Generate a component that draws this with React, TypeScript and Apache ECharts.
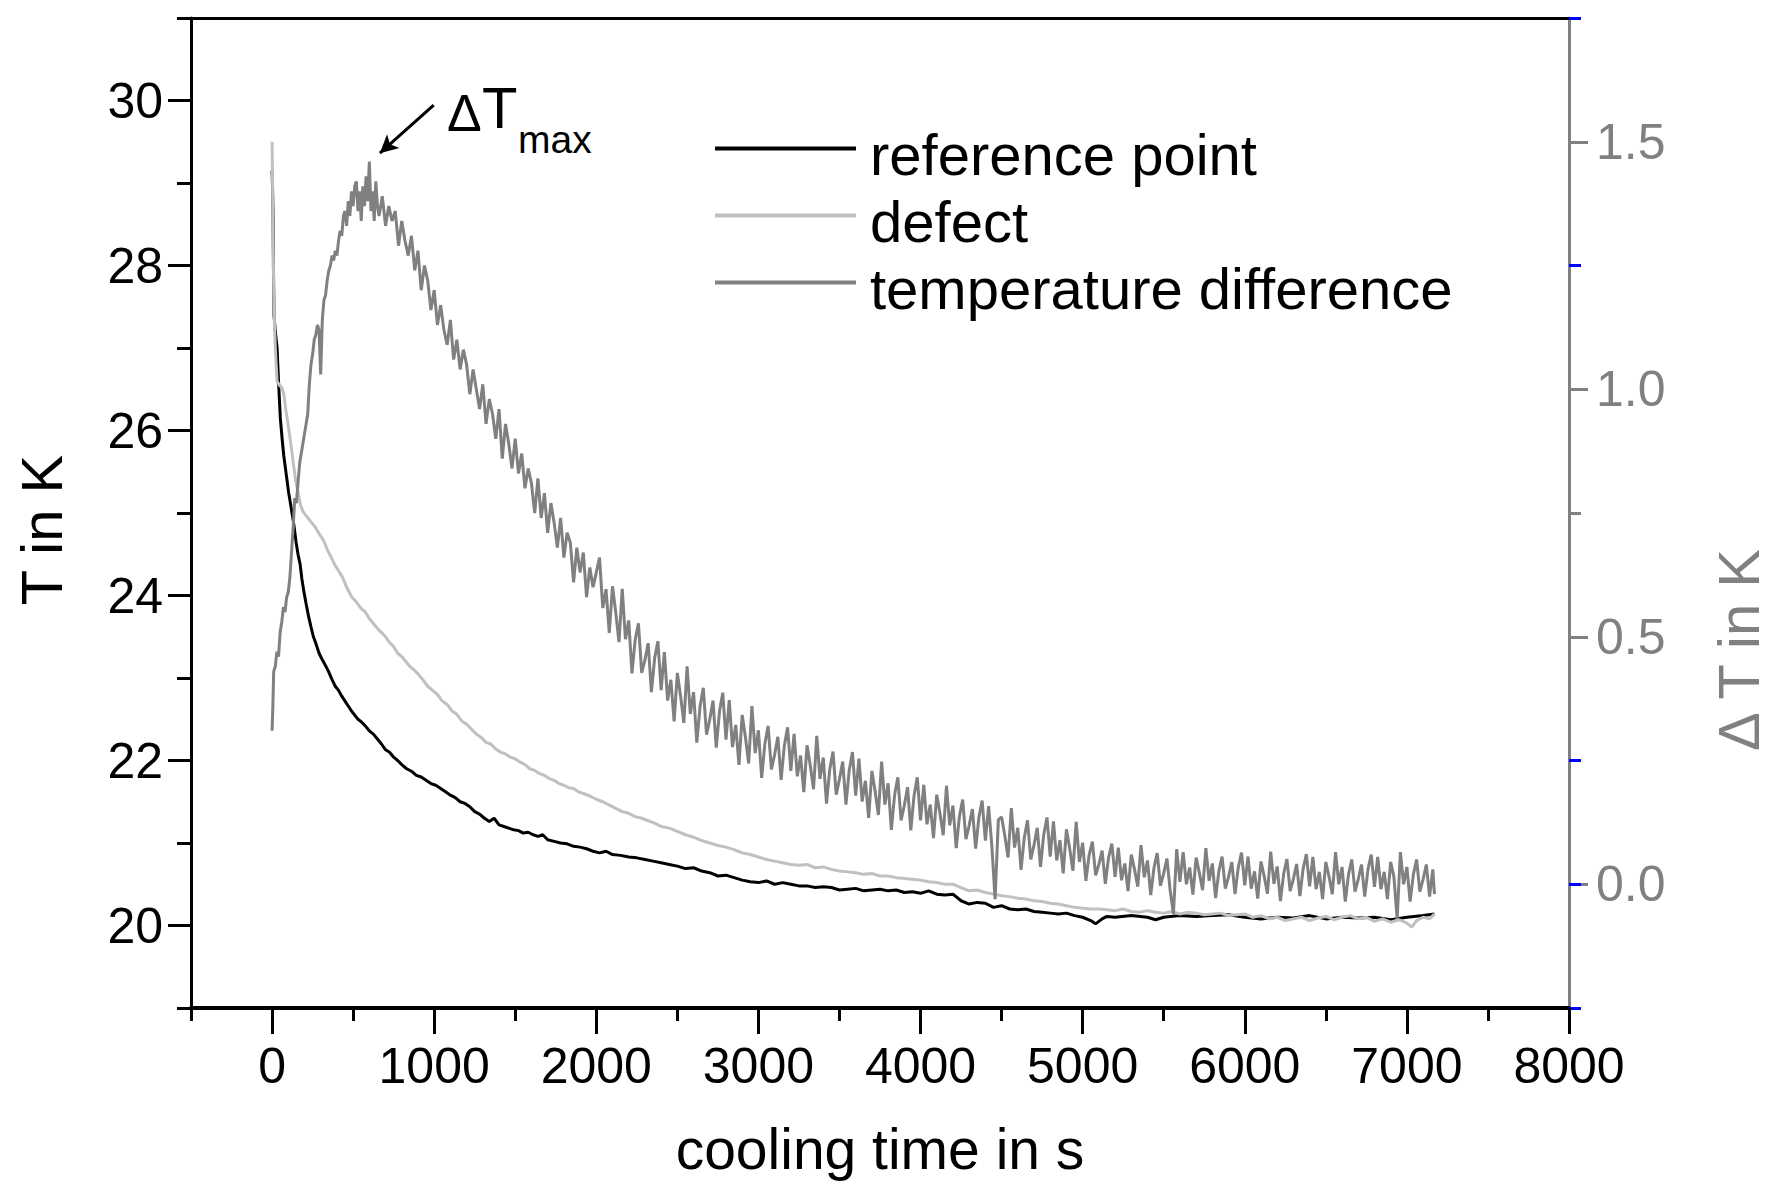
import React, { useEffect, useRef } from "react";
import * as echarts from "echarts";

const FONT = "'Liberation Sans', Arial, Helvetica, sans-serif";

const xMajorTicks = [0, 1000, 2000, 3000, 4000, 5000, 6000, 7000, 8000];
const yLeftMajorTicks = [20, 22, 24, 26, 28, 30];
const yRightMajorTicks = [0, 0.5, 1, 1.5];
const yRightGrayMinorTicks = [0.75];
const yRightBlueTicks = [-0.25, 0, 0.25, 1.25, 1.75];

const seriesNames = ["reference point", "defect", "temperature difference"];

// [cooling time in s, T in K]
const referencePoint: number[][] = [
  [0, 29.15], [3, 28.95], [6, 28.6], [9, 27.9], [12, 27.4], [20, 27.2], [31, 27.0], [41, 26.55], [51, 26.15],
  [62, 25.9], [72, 25.7], [82, 25.55], [92, 25.4], [102, 25.25], [113, 25.12], [123, 25.0], [135, 24.85],
  [148, 24.65], [160, 24.5], [173, 24.38], [184, 24.2], [196, 24.05], [210, 23.9], [225, 23.75], [240, 23.62],
  [255, 23.5], [270, 23.42], [290, 23.3], [310, 23.22], [330, 23.15], [348, 23.08], [370, 22.98], [390, 22.9],
  [410, 22.85], [430, 22.78], [450, 22.72], [470, 22.66], [490, 22.6], [510, 22.55], [530, 22.5], [550, 22.47],
  [575, 22.42], [600, 22.36], [625, 22.32], [650, 22.26], [675, 22.2], [700, 22.13], [725, 22.1], [750, 22.04],
  [775, 22.0], [800, 21.95], [830, 21.9], [860, 21.87], [890, 21.82], [920, 21.8], [950, 21.76], [980, 21.72],
  [1010, 21.7], [1040, 21.66], [1070, 21.62], [1100, 21.58], [1130, 21.55], [1160, 21.5], [1190, 21.48],
  [1220, 21.44], [1250, 21.38], [1280, 21.35], [1310, 21.3], [1340, 21.26], [1370, 21.3], [1400, 21.22],
  [1430, 21.2], [1460, 21.18], [1490, 21.16], [1520, 21.15], [1550, 21.12], [1580, 21.13], [1610, 21.1],
  [1640, 21.08], [1670, 21.1], [1700, 21.04], [1740, 21.02], [1780, 21.0], [1820, 20.99], [1860, 20.96],
  [1900, 20.95], [1940, 20.93], [1980, 20.9], [2020, 20.88], [2060, 20.9], [2100, 20.86], [2150, 20.85],
  [2200, 20.83], [2250, 20.82], [2300, 20.8], [2350, 20.78], [2400, 20.76], [2450, 20.74], [2500, 20.72],
  [2550, 20.69], [2600, 20.7], [2650, 20.66], [2700, 20.64], [2750, 20.6], [2800, 20.61], [2850, 20.58],
  [2900, 20.55], [2950, 20.53], [3000, 20.52], [3050, 20.54], [3100, 20.5], [3150, 20.52], [3200, 20.5],
  [3250, 20.48], [3300, 20.48], [3350, 20.46], [3400, 20.47], [3450, 20.46], [3500, 20.43], [3550, 20.44],
  [3600, 20.45], [3650, 20.42], [3700, 20.43], [3750, 20.44], [3800, 20.42], [3850, 20.43], [3900, 20.4],
  [3950, 20.41], [4000, 20.39], [4050, 20.42], [4100, 20.38], [4150, 20.37], [4200, 20.38], [4250, 20.3],
  [4300, 20.26], [4350, 20.28], [4400, 20.27], [4450, 20.22], [4500, 20.24], [4550, 20.2], [4600, 20.19],
  [4650, 20.2], [4700, 20.17], [4750, 20.16], [4800, 20.15], [4850, 20.14], [4900, 20.15], [4950, 20.12],
  [5000, 20.1], [5050, 20.06], [5080, 20.02], [5120, 20.08], [5150, 20.11], [5200, 20.1], [5300, 20.12],
  [5400, 20.1], [5450, 20.07], [5500, 20.1], [5600, 20.12], [5700, 20.11], [5800, 20.12], [5900, 20.13],
  [6000, 20.1], [6100, 20.08], [6200, 20.1], [6300, 20.09], [6400, 20.12], [6500, 20.08], [6600, 20.1],
  [6700, 20.09], [6800, 20.1], [6900, 20.07], [7000, 20.1], [7100, 20.12], [7170, 20.14],
];

// [cooling time in s, T in K]
const defect: number[][] = [
  [0, 29.5], [3, 29.0], [6, 28.4], [9, 27.9], [12, 27.5], [20, 27.0], [31, 26.6], [45, 26.55], [60, 26.52],
  [72, 26.45], [85, 26.25], [102, 26.03], [115, 25.85], [128, 25.65], [143, 25.43], [160, 25.25], [175, 25.1],
  [190, 25.02], [205, 24.98], [225, 24.93], [245, 24.88], [266, 24.83], [290, 24.75], [317, 24.67], [340, 24.56],
  [360, 24.48], [385, 24.38], [410, 24.3], [435, 24.22], [460, 24.1], [492, 23.98], [520, 23.92], [550, 23.84],
  [575, 23.8], [600, 23.72], [625, 23.66], [650, 23.6], [675, 23.55], [700, 23.5], [725, 23.43], [750, 23.38],
  [775, 23.3], [800, 23.26], [825, 23.2], [850, 23.14], [875, 23.1], [900, 23.05], [930, 22.98], [960, 22.9],
  [990, 22.85], [1020, 22.8], [1050, 22.72], [1080, 22.68], [1110, 22.6], [1140, 22.56], [1170, 22.48],
  [1200, 22.44], [1230, 22.38], [1260, 22.32], [1290, 22.28], [1320, 22.22], [1350, 22.2], [1380, 22.14],
  [1410, 22.1], [1440, 22.08], [1470, 22.04], [1500, 22.02], [1530, 21.98], [1560, 21.95], [1590, 21.9],
  [1620, 21.88], [1650, 21.84], [1680, 21.82], [1710, 21.78], [1740, 21.76], [1770, 21.72], [1800, 21.7],
  [1830, 21.67], [1860, 21.66], [1890, 21.62], [1920, 21.6], [1960, 21.57], [2000, 21.53], [2040, 21.5],
  [2080, 21.46], [2120, 21.42], [2160, 21.38], [2200, 21.36], [2240, 21.32], [2280, 21.3], [2320, 21.27],
  [2360, 21.24], [2400, 21.2], [2450, 21.18], [2500, 21.14], [2550, 21.1], [2600, 21.07], [2650, 21.03],
  [2700, 21.0], [2750, 20.97], [2800, 20.95], [2850, 20.92], [2900, 20.88], [2950, 20.86], [3000, 20.83],
  [3050, 20.8], [3100, 20.78], [3150, 20.76], [3200, 20.74], [3250, 20.73], [3300, 20.74], [3350, 20.7],
  [3400, 20.71], [3450, 20.68], [3500, 20.66], [3550, 20.65], [3600, 20.64], [3650, 20.62], [3700, 20.63],
  [3750, 20.6], [3800, 20.6], [3850, 20.58], [3900, 20.57], [3950, 20.56], [4000, 20.55], [4050, 20.53],
  [4100, 20.52], [4150, 20.5], [4200, 20.5], [4250, 20.46], [4300, 20.42], [4350, 20.43], [4400, 20.4],
  [4450, 20.38], [4500, 20.36], [4550, 20.35], [4600, 20.33], [4650, 20.32], [4700, 20.3], [4750, 20.29],
  [4800, 20.27], [4850, 20.26], [4900, 20.24], [4950, 20.22], [5000, 20.21], [5050, 20.2], [5100, 20.2],
  [5150, 20.19], [5200, 20.18], [5250, 20.2], [5300, 20.17], [5350, 20.16], [5400, 20.18], [5450, 20.16],
  [5500, 20.15], [5550, 20.17], [5600, 20.14], [5650, 20.16], [5700, 20.15], [5750, 20.13], [5800, 20.14],
  [5850, 20.15], [5900, 20.12], [5950, 20.13], [6000, 20.14], [6050, 20.1], [6100, 20.12], [6150, 20.08],
  [6200, 20.1], [6250, 20.06], [6300, 20.08], [6350, 20.1], [6400, 20.06], [6450, 20.09], [6500, 20.11],
  [6550, 20.07], [6600, 20.1], [6650, 20.12], [6700, 20.08], [6750, 20.1], [6800, 20.05], [6850, 20.08],
  [6900, 20.04], [6950, 20.07], [7000, 20.03], [7030, 19.98], [7060, 20.06], [7100, 20.1], [7140, 20.08],
  [7170, 20.14],
];

// [cooling time in s, ΔT in K]
const temperatureDifference: number[][] = [
  [0, 0.31], [5, 0.36], [10, 0.43], [20, 0.44], [30, 0.47], [40, 0.46], [50, 0.51], [60, 0.53], [70, 0.56],
  [80, 0.55], [90, 0.58], [100, 0.59], [110, 0.62], [120, 0.67], [130, 0.72], [140, 0.78], [150, 0.77],
  [160, 0.81], [170, 0.85], [180, 0.87], [190, 0.89], [200, 0.91], [210, 0.93], [220, 0.95], [230, 1.01],
  [240, 1.05], [250, 1.07], [260, 1.1], [270, 1.11], [280, 1.13], [290, 1.12], [300, 1.03], [310, 1.14],
  [320, 1.18], [330, 1.19], [340, 1.22], [350, 1.24], [360, 1.25], [370, 1.27], [380, 1.26], [390, 1.28],
  [400, 1.27], [410, 1.3], [420, 1.32], [430, 1.31], [440, 1.35], [450, 1.36], [460, 1.33], [470, 1.38],
  [480, 1.35], [490, 1.4], [500, 1.37], [510, 1.41], [520, 1.42], [530, 1.36], [540, 1.4], [550, 1.34],
  [560, 1.41], [570, 1.37], [580, 1.43], [590, 1.38], [600, 1.46], [610, 1.36], [620, 1.4], [630, 1.34],
  [640, 1.42], [650, 1.37], [660, 1.35], [680, 1.39], [700, 1.33], [720, 1.37], [740, 1.34], [760, 1.36],
  [780, 1.29], [800, 1.34], [820, 1.3], [840, 1.27], [860, 1.31], [880, 1.24], [900, 1.28], [920, 1.2],
  [940, 1.25], [960, 1.22], [980, 1.16], [1000, 1.2], [1020, 1.13], [1040, 1.17], [1060, 1.12], [1080, 1.09],
  [1100, 1.14], [1120, 1.06], [1140, 1.1], [1160, 1.04], [1180, 1.08], [1200, 1.05], [1220, 0.99],
  [1240, 1.04], [1260, 1.0], [1280, 0.96], [1300, 1.01], [1320, 0.93], [1340, 0.98], [1360, 0.95],
  [1380, 0.9], [1400, 0.96], [1420, 0.86], [1440, 0.93], [1460, 0.89], [1480, 0.84], [1500, 0.9],
  [1520, 0.83], [1540, 0.87], [1560, 0.8], [1580, 0.84], [1600, 0.81], [1620, 0.75], [1640, 0.82],
  [1660, 0.74], [1680, 0.79], [1700, 0.71], [1720, 0.77], [1740, 0.73], [1760, 0.68], [1780, 0.74],
  [1800, 0.66], [1820, 0.71], [1840, 0.69], [1860, 0.61], [1880, 0.68], [1900, 0.63], [1920, 0.67],
  [1940, 0.58], [1960, 0.64], [1980, 0.6], [2000, 0.63],
  [2020, 0.66], [2040, 0.558], [2060, 0.596], [2080, 0.508], [2100, 0.602], [2120, 0.549], [2140, 0.489],
  [2160, 0.597], [2180, 0.495], [2200, 0.533], [2220, 0.426], [2240, 0.494], [2260, 0.527], [2280, 0.427],
  [2300, 0.453], [2320, 0.487], [2340, 0.388], [2360, 0.457], [2380, 0.491], [2400, 0.392], [2420, 0.469],
  [2440, 0.371], [2460, 0.413], [2480, 0.329], [2500, 0.427], [2520, 0.38], [2540, 0.326], [2560, 0.44],
  [2580, 0.344], [2600, 0.388], [2620, 0.286], [2640, 0.359], [2660, 0.397], [2680, 0.302], [2700, 0.333],
  [2720, 0.371], [2740, 0.276], [2760, 0.349], [2780, 0.387], [2800, 0.292], [2820, 0.372], [2840, 0.277],
  [2860, 0.322], [2880, 0.241], [2900, 0.342], [2920, 0.297], [2940, 0.244], [2960, 0.36], [2980, 0.265],
  [3000, 0.311], [3020, 0.215], [3040, 0.284], [3060, 0.32], [3080, 0.232], [3100, 0.262], [3120, 0.298],
  [3140, 0.211], [3160, 0.28], [3180, 0.317], [3200, 0.229], [3220, 0.304], [3240, 0.218], [3260, 0.26],
  [3280, 0.186], [3300, 0.281], [3320, 0.24], [3340, 0.192], [3360, 0.3], [3380, 0.213], [3400, 0.256],
  [3420, 0.163], [3440, 0.232], [3460, 0.268], [3480, 0.181], [3500, 0.212], [3520, 0.248], [3540, 0.161],
  [3560, 0.23], [3580, 0.267], [3600, 0.179], [3620, 0.254], [3640, 0.167], [3660, 0.209], [3680, 0.134],
  [3700, 0.229], [3720, 0.188], [3740, 0.14], [3760, 0.248], [3780, 0.161], [3800, 0.204], [3820, 0.11],
  [3840, 0.18], [3860, 0.216], [3880, 0.129], [3900, 0.159], [3920, 0.196], [3940, 0.109], [3960, 0.179],
  [3980, 0.216], [4000, 0.129], [4020, 0.201], [4040, 0.121], [4060, 0.161], [4080, 0.093], [4100, 0.181],
  [4120, 0.143], [4140, 0.099], [4160, 0.199], [4180, 0.119], [4200, 0.159], [4220, 0.073], [4240, 0.137],
  [4260, 0.171], [4280, 0.091], [4300, 0.119], [4320, 0.152], [4340, 0.072], [4360, 0.135], [4380, 0.169],
  [4400, 0.088], [4420, 0.158], [4440, 0.077], [4460, -0.03], [4480, 0.13], [4500, 0.136], [4520, 0.098],
  [4540, 0.054], [4560, 0.154], [4580, 0.074], [4600, 0.114], [4620, 0.029], [4640, 0.094], [4660, 0.129],
  [4680, 0.05], [4700, 0.079], [4720, 0.114], [4740, 0.035], [4760, 0.1], [4780, 0.135], [4800, 0.056],
  [4820, 0.127], [4840, 0.048], [4860, 0.089], [4880, 0.022], [4900, 0.111], [4920, 0.072], [4940, 0.027],
  [4960, 0.126], [4980, 0.045], [5000, 0.084], [5020, 0.007], [5040, 0.059], [5060, 0.086], [5080, 0.018],
  [5100, 0.04], [5120, 0.068], [5140, 0.001], [5160, 0.054], [5180, 0.082], [5200, 0.015], [5220, 0.074],
  [5240, 0.008], [5260, 0.042], [5280, -0.014], [5300, 0.06], [5320, 0.03], [5340, -0.005], [5360, 0.079],
  [5380, 0.014], [5400, 0.048], [5420, -0.022], [5440, 0.033], [5460, 0.063], [5480, -0.003], [5500, 0.022],
  [5520, 0.052], [5540, -0.013], [5560, -0.06], [5580, 0.071], [5600, 0.005], [5620, 0.065], [5640, 0.0],
  [5660, 0.034], [5680, -0.021], [5700, 0.054], [5720, 0.023], [5740, -0.012], [5760, 0.073], [5780, 0.007],
  [5800, 0.042], [5820, -0.028], [5840, 0.026], [5860, 0.056], [5880, -0.009], [5900, 0.015], [5920, 0.045],
  [5940, -0.02], [5960, 0.034], [5980, 0.064], [6000, -0.002], [6020, 0.056], [6040, -0.009], [6060, 0.026],
  [6080, -0.029], [6100, 0.046], [6120, 0.016], [6140, -0.019], [6160, 0.066], [6180, 0.001], [6200, 0.036],
  [6220, -0.034], [6240, 0.021], [6260, 0.051], [6280, -0.014], [6300, 0.011], [6320, 0.041], [6340, -0.024],
  [6360, 0.031], [6380, 0.061], [6400, -0.004], [6420, 0.055], [6440, -0.01], [6460, 0.025], [6480, -0.03],
  [6500, 0.045], [6520, 0.015], [6540, -0.02], [6560, 0.065], [6580, 0.0], [6600, 0.035], [6620, -0.035],
  [6640, 0.02], [6660, 0.05], [6680, -0.015], [6700, 0.01], [6720, 0.04], [6740, -0.025], [6760, 0.03],
  [6780, 0.06], [6800, -0.005], [6820, 0.055], [6840, -0.01], [6860, 0.025], [6880, -0.03], [6900, 0.045],
  [6920, 0.015], [6940, -0.07], [6960, 0.065], [6980, 0.0], [7000, 0.035], [7020, -0.035], [7040, 0.02],
  [7060, 0.05], [7080, -0.015], [7100, 0.01], [7120, 0.04], [7140, -0.025], [7160, 0.03], [7170, -0.02],
];

// arrow pointing at the maximum of the temperature difference: [time, ΔT] start -> end
const deltaTmaxArrow = [
  [997, 1.574],
  [665, 1.477],
];

// legend line sits in the upper part of its 16px-high icon box
const legendIcon = "path://M0 0H141V4H0Z M0 15.99H0.01V16H0Z";

export default function App() {
  const ref = useRef<HTMLDivElement>(null);

  useEffect(() => {
    if (!ref.current) return;
    const chart = echarts.init(ref.current, undefined, { renderer: "svg" });

    const tickLabel = { fontFamily: FONT, fontSize: 50, color: "#000" };
    const plain = (v: number) => String(v);
    const hidden = { show: false };

    const option: any = {
      animation: false,
      backgroundColor: "#ffffff",
      textStyle: { fontFamily: FONT },
      grid: { left: 191, right: 202, top: 18, bottom: 184, containLabel: false },
      legend: {
        data: seriesNames.map((name) => ({ name, icon: legendIcon })),
        orient: "vertical",
        left: 715,
        top: 121,
        padding: 0,
        itemGap: 0,
        itemWidth: 141,
        itemHeight: 16,
        selectedMode: false,
        textStyle: {
          fontFamily: FONT,
          fontSize: 58,
          color: "#000",
          lineHeight: 67,
          padding: [0, 0, 0, 9],
        },
      },
      xAxis: [
        {
          type: "value",
          min: -500,
          max: 8000,
          position: "bottom",
          axisLine: { show: true, onZero: false, lineStyle: { color: "#000", width: 4 } },
          axisTick: { show: true, customValues: xMajorTicks, length: 26, lineStyle: { color: "#000", width: 3 } },
          axisLabel: { show: true, customValues: xMajorTicks, margin: 33, formatter: plain, ...tickLabel },
          splitLine: hidden,
          name: "cooling time in s",
          nameLocation: "middle",
          nameGap: 112,
          nameTextStyle: { fontFamily: FONT, fontSize: 57, color: "#000" },
        },
        {
          type: "value",
          min: -500,
          max: 8000,
          interval: 500,
          position: "bottom",
          axisLine: { show: false, onZero: false },
          axisTick: { show: true, length: 13, lineStyle: { color: "#000", width: 3 } },
          axisLabel: hidden,
          splitLine: hidden,
        },
        {
          type: "value",
          min: -500,
          max: 8000,
          position: "top",
          axisLine: { show: true, onZero: false, lineStyle: { color: "#000", width: 3 } },
          axisTick: hidden,
          axisLabel: hidden,
          splitLine: hidden,
        },
      ],
      yAxis: [
        {
          type: "value",
          min: 19,
          max: 31,
          position: "left",
          axisLine: { show: true, onZero: false, lineStyle: { color: "#000", width: 3 } },
          axisTick: { show: true, customValues: yLeftMajorTicks, length: 23, lineStyle: { color: "#000", width: 3 } },
          axisLabel: { show: true, customValues: yLeftMajorTicks, margin: 28, formatter: plain, ...tickLabel },
          splitLine: hidden,
          name: "T in K",
          nameLocation: "middle",
          nameRotate: 90,
          nameGap: 121,
          nameTextStyle: { fontFamily: FONT, fontSize: 58, color: "#000", padding: [0, 34, 0, 0] },
        },
        {
          type: "value",
          min: 19,
          max: 31,
          interval: 1,
          position: "left",
          axisLine: { show: false, onZero: false },
          axisTick: { show: true, length: 14, lineStyle: { color: "#000", width: 3 } },
          axisLabel: hidden,
          splitLine: hidden,
        },
        {
          type: "value",
          min: -0.25,
          max: 1.75,
          position: "right",
          axisLine: { show: true, onZero: false, lineStyle: { color: "#808080", width: 3 } },
          axisTick: { show: true, customValues: yRightMajorTicks, length: 19, lineStyle: { color: "#808080", width: 3 } },
          axisLabel: {
            show: true,
            customValues: yRightMajorTicks,
            margin: 27,
            fontFamily: FONT,
            fontSize: 50,
            color: "#808080",
            formatter: (v: number) => v.toFixed(1),
          },
          splitLine: hidden,
        },
        {
          type: "value",
          min: -0.25,
          max: 1.75,
          position: "right",
          axisLine: { show: false, onZero: false },
          axisTick: { show: true, customValues: yRightGrayMinorTicks, length: 12, lineStyle: { color: "#808080", width: 3 } },
          axisLabel: hidden,
          splitLine: hidden,
        },
        {
          type: "value",
          min: -0.25,
          max: 1.75,
          position: "right",
          axisLine: { show: false, onZero: false },
          axisTick: { show: true, customValues: yRightBlueTicks, length: 12, lineStyle: { color: "#0000ff", width: 3 } },
          axisLabel: hidden,
          splitLine: hidden,
        },
      ],
      graphic: [
        {
          type: "text",
          x: 447,
          y: 113,
          style: { text: "Δ", fontFamily: FONT, fontSize: 52, fill: "#000", align: "left", verticalAlign: "middle" },
        },
        {
          type: "text",
          x: 482,
          y: 107,
          style: { text: "T", fontFamily: FONT, fontSize: 58, fill: "#000", align: "left", verticalAlign: "middle" },
        },
        {
          type: "text",
          x: 518,
          y: 139,
          style: { text: "max", fontFamily: FONT, fontSize: 39, fill: "#000", align: "left", verticalAlign: "middle" },
        },
        {
          type: "text",
          x: 1738,
          y: 650,
          rotation: Math.PI / 2,
          style: {
            text: "Δ T in K",
            fontFamily: FONT,
            fontSize: 58,
            fill: "#808080",
            align: "center",
            verticalAlign: "middle",
          },
        },
      ],
      series: [
        {
          name: seriesNames[0],
          type: "line",
          xAxisIndex: 0,
          yAxisIndex: 0,
          data: referencePoint,
          symbol: "none",
          lineStyle: { color: "#000000", width: 3 },
          itemStyle: { color: "#000000" },
          z: 3,
        },
        {
          name: seriesNames[1],
          type: "line",
          xAxisIndex: 0,
          yAxisIndex: 0,
          data: defect,
          symbol: "none",
          lineStyle: { color: "#c0c0c0", width: 3 },
          itemStyle: { color: "#c0c0c0" },
          z: 4,
        },
        {
          name: seriesNames[2],
          type: "line",
          xAxisIndex: 0,
          yAxisIndex: 2,
          data: temperatureDifference,
          symbol: "none",
          lineStyle: { color: "#808080", width: 3 },
          itemStyle: { color: "#808080" },
          z: 5,
          markLine: {
            silent: true,
            symbol: ["none", "arrow"],
            symbolSize: [14, 18],
            label: { show: false },
            lineStyle: { color: "#000", width: 3, type: "solid" },
            data: [[{ coord: deltaTmaxArrow[0] }, { coord: deltaTmaxArrow[1] }]],
          },
        },
      ],
    };

    chart.setOption(option);
    return () => chart.dispose();
  }, []);

  return (
    <div
      ref={ref}
      style={{ position: "fixed", left: 0, top: 0, width: 1771, height: 1192, background: "#fff" }}
    />
  );
}
